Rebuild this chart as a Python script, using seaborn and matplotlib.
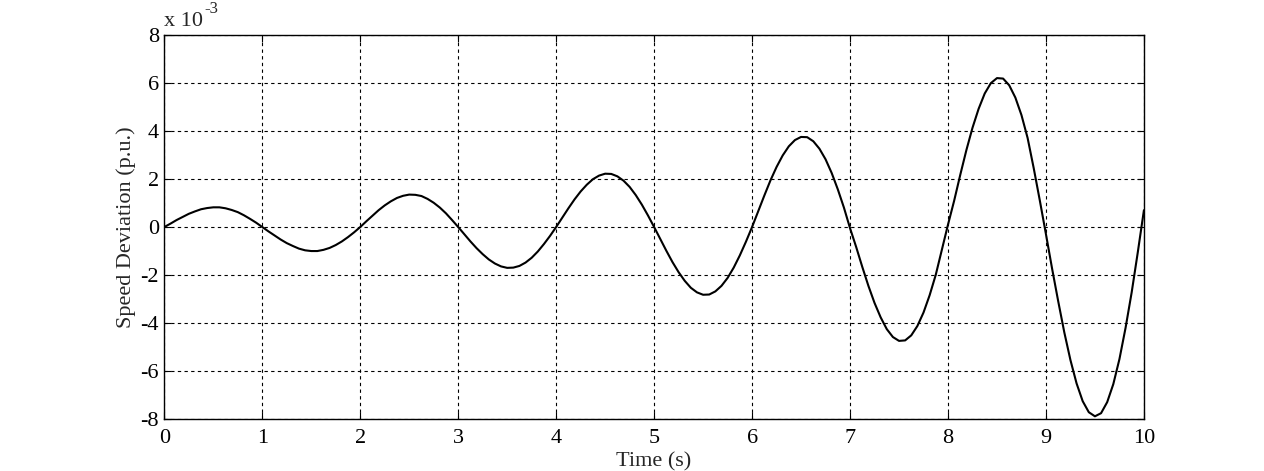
import numpy as np
import pandas as pd
import seaborn as sns
import matplotlib
matplotlib.use("Agg")
import matplotlib.pyplot as plt

# Time (s), sampled every 1/16 s
time_s = [i * 0.0625 for i in range(161)]

# Speed deviation (p.u.), in units of 1e-3
speed_dev = [
    0.00, 0.14, 0.29, 0.42, 0.55, 0.65, 0.74, 0.79, 0.82, 0.82, 0.78, 0.71, 0.62, 0.49, 0.34, 0.18,
    0.00, -0.18, -0.35, -0.52, -0.67, -0.79, -0.90, -0.97, -1.00, -1.00, -0.95, -0.87, -0.75, -0.60, -0.42, -0.22,
    0.00, 0.24, 0.47, 0.70, 0.90, 1.07, 1.21, 1.30, 1.35, 1.34, 1.29, 1.17, 1.01, 0.81, 0.57, 0.29,
    0.00, -0.30, -0.60, -0.88, -1.13, -1.35, -1.52, -1.64, -1.70, -1.69, -1.62, -1.48, -1.28, -1.02, -0.71, -0.37,
    0.00, 0.39, 0.78, 1.15, 1.48, 1.76, 1.99, 2.14, 2.22, 2.21, 2.11, 1.93, 1.67, 1.33, 0.93, 0.48,
    0.00, -0.50, -0.99, -1.46, -1.88, -2.24, -2.53, -2.72, -2.82, -2.81, -2.68, -2.45, -2.12, -1.69, -1.18, -0.61,
    0.00, 0.66, 1.31, 1.94, 2.50, 2.98, 3.36, 3.62, 3.75, 3.74, 3.57, 3.26, 2.82, 2.25, 1.57, 0.81,
    -0.05, -0.83, -1.66, -2.45, -3.16, -3.76, -4.25, -4.58, -4.74, -4.72, -4.51, -4.12, -3.56, -2.84, -1.99, -0.95,
    0.10, 1.09, 2.17, 3.20, 4.13, 4.92, 5.56, 5.99, 6.20, 6.18, 5.90, 5.39, 4.66, 3.71, 2.45, 1.10,
    -0.30, -1.73, -3.09, -4.39, -5.54, -6.51, -7.25, -7.71, -7.88, -7.75, -7.29, -6.54, -5.50, -4.20, -2.72, -1.05,
    0.70,
]

x_ticks = [0, 1, 2, 3, 4, 5, 6, 7, 8, 9, 10]
y_ticks = [-8, -6, -4, -2, 0, 2, 4, 6, 8]

sns.set_style("white")
plt.rcParams["font.family"] = ["Liberation Serif", "DejaVu Serif"]
plt.rcParams["axes.unicode_minus"] = False

df = pd.DataFrame({"t": time_s, "v": speed_dev})

fig = plt.figure(figsize=(12.64, 4.71), dpi=100)
ax = fig.add_axes([0.130, 0.110, 0.775, 0.816])

sns.lineplot(data=df, x="t", y="v", color="black", linewidth=1.5, ax=ax)

ax.set_xlim(0, 10)
ax.set_ylim(-8, 8)
ax.set_xticks(x_ticks)
ax.set_yticks(y_ticks)
ax.set_xticklabels([str(v) for v in x_ticks])
ax.set_yticklabels([str(v) for v in y_ticks])
ax.grid(True, color="black", linestyle=(0, (3, 3)), linewidth=0.8)
ax.set_axisbelow(True)
for s in ax.spines.values():
    s.set_color("black")
    s.set_linewidth(1.0)
ax.tick_params(axis="both", direction="in", length=5, width=0.8, colors="black",
               labelsize=16, top=True, right=True, bottom=True, left=True)
ax.tick_params(axis="x", pad=7)
ax.tick_params(axis="y", pad=4)
ax.set_xlabel("Time (s)", fontsize=16, labelpad=3)
ax.set_ylabel("Speed Deviation (p.u.)", fontsize=16, labelpad=3)
ax.annotate("x 10", xy=(0, 1), xycoords="axes fraction", xytext=(0, 3),
            textcoords="offset points", fontsize=16, ha="left", va="bottom")
ax.annotate("-3", xy=(0, 1), xycoords="axes fraction", xytext=(28.5, 13),
            textcoords="offset points", fontsize=12, ha="left", va="bottom")

fig.savefig("out.png", dpi=100)
